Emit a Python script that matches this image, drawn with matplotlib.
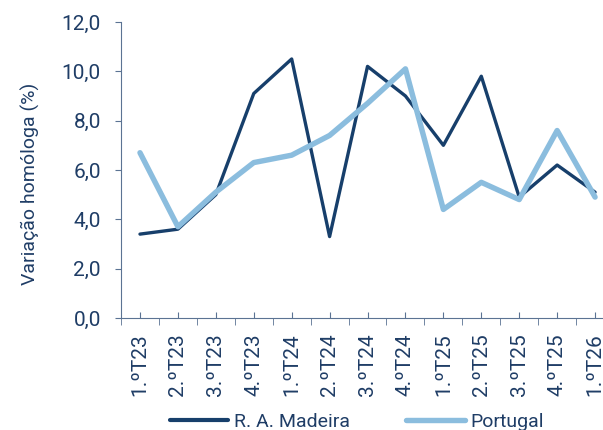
import matplotlib.pyplot as plt
import numpy as np
from matplotlib.ticker import FuncFormatter, FixedLocator

plt.rcParams['font.family'] = ['Roboto', 'DejaVu Sans']

trimestres = ['1.ºT23', '2.ºT23', '3.ºT23', '4.ºT23', '1.ºT24', '2.ºT24', '3.ºT24',
              '4.ºT24', '1.ºT25', '2.ºT25', '3.ºT25', '4.ºT25', '1.ºT26']
madeira = [3.4, 3.6, 5.0, 9.1, 10.5, 3.3, 10.2, 9.0, 7.0, 9.8, 4.9, 6.2, 5.1]
portugal = [6.7, 3.7, 5.1, 6.3, 6.6, 7.4, 8.7, 10.1, 4.4, 5.5, 4.8, 7.6, 4.9]

azul_esc = '#173F6B'
azul_cla = '#8BBDDE'
txt = '#1F3D66'
eixo = '#5B7393'

fig = plt.figure(figsize=(6.03, 4.3), dpi=100)
# the original chart is cut on the right, so the axes run past the figure edge
ax = fig.add_axes([0.2007, 0.2605, 0.8176, 0.6884])

x = np.arange(len(trimestres))
ax.plot(x, madeira, color=azul_esc, lw=2.4, label='R. A. Madeira', solid_capstyle='round')
ax.plot(x, portugal, color=azul_cla, lw=3.9, label='Portugal', solid_capstyle='round')

ax.set_xlim(-0.5, len(x) - 0.5)
ax.set_ylim(0, 12)
ax.set_yticks(np.arange(0, 12.1, 2))
ax.yaxis.set_major_formatter(FuncFormatter(lambda v, p: f'{v:.1f}'.replace('.', ',')))

# category labels at centre, boundary ticks below
ax.set_xticks(x)
ax.set_xticklabels(trimestres, rotation=90)
ax.xaxis.set_minor_locator(FixedLocator(np.arange(-0.5, len(x), 1)))
ax.tick_params(axis='x', which='major', direction='in', length=4, color=eixo,
               labelsize=15, labelcolor=txt, pad=11)
ax.tick_params(axis='x', which='minor', direction='out', length=5, color=eixo)
ax.tick_params(axis='y', direction='out', length=4.5, color=eixo, labelsize=15,
               labelcolor=txt, pad=10)

for s in ['top', 'right']:
    ax.spines[s].set_visible(False)
ax.spines['left'].set_color(eixo)
ax.spines['bottom'].set_color(eixo)

ax.set_ylabel('Variação homóloga (%)', fontsize=14, color=txt)
ax.yaxis.set_label_coords(-0.165, 0.453)

leg = fig.legend(loc='center', bbox_to_anchor=(357 / 603, 8 / 430), ncol=2, frameon=False,
                 fontsize=14, labelcolor=txt, handlelength=3.0, columnspacing=2.9,
                 handletextpad=0.3)
leg.get_lines()[0].set_linewidth(3.0)
leg.get_lines()[1].set_linewidth(3.9)

fig.savefig('out.png', dpi=100)
